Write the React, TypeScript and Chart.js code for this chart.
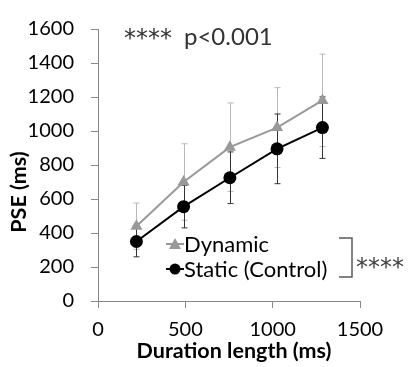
import React, { useEffect, useRef } from "react";
import { Chart, registerables } from "chart.js";

Chart.register(...registerables);

const durations = [220, 490, 755, 1025, 1285];
const dynamicPSE = [440, 700, 905, 1020, 1180];
const dynamicSD = [136, 225, 260, 235, 272];
const staticPSE = [350, 555, 725, 895, 1020];
const staticSD = [90, 125, 152, 205, 181];

const xTicks = [0, 500, 1000, 1500];
const yTicks = [0, 200, 400, 600, 800, 1000, 1200, 1400, 1600];

const seriesNames = ["Dynamic", "Static (Control)"];
const xTitle = "Duration length (ms)";
const yTitle = "PSE (ms)";
const sigStars = "****";
const sigP = "p<0.001";

const FONT = "Lato";
const STAR_FONT = "DejaVu Sans";
const sds = [dynamicSD, staticSD];
const barColors = ["#b8b8b8", "#333333"];

const errorBars = {
  id: "errorBars",
  beforeDatasetsDraw(chart: any) {
    const ctx = chart.ctx;
    const ys = chart.scales.y;
    ctx.save();
    chart.data.datasets.forEach((ds: any, i: number) => {
      const meta = chart.getDatasetMeta(i);
      ctx.strokeStyle = barColors[i];
      ctx.lineWidth = 1;
      meta.data.forEach((pt: any, j: number) => {
        const v = ds.data[j].y;
        const sd = sds[i][j];
        const x = Math.round(pt.x) + 0.5;
        const t = ys.getPixelForValue(v + sd);
        const b = ys.getPixelForValue(v - sd);
        ctx.beginPath();
        ctx.moveTo(x, t);
        ctx.lineTo(x, b);
        ctx.moveTo(x - 3, t);
        ctx.lineTo(x + 3, t);
        ctx.moveTo(x - 3, b);
        ctx.lineTo(x + 3, b);
        ctx.stroke();
      });
    });
    ctx.restore();
  },
};

const annotations = {
  id: "annotations",
  afterDraw(chart: any) {
    const ctx = chart.ctx;
    ctx.save();
    // top significance text
    ctx.fillStyle = "#333333";
    ctx.textAlign = "left";
    ctx.textBaseline = "alphabetic";
    ctx.font = `24px ${STAR_FONT}`;
    ctx.fillText(sigStars, 124, 45.5);
    ctx.font = `24px ${FONT}`;
    ctx.fillText(sigP, 184, 45);

    // axis titles
    ctx.fillStyle = "#000000";
    ctx.font = `bold 21.5px ${FONT}`;
    ctx.textAlign = "center";
    ctx.textBaseline = "middle";
    ctx.fillText(xTitle, 234, 351);
    ctx.save();
    ctx.translate(19, 192);
    ctx.rotate(-Math.PI / 2);
    ctx.fillText(yTitle, 0, 0);
    ctx.restore();

    // legend
    const rows = [244, 269];
    const colors = ["#999999", "#000000"];
    rows.forEach((y, i) => {
      ctx.strokeStyle = colors[i];
      ctx.lineWidth = 2;
      ctx.beginPath();
      ctx.moveTo(166, y);
      ctx.lineTo(184, y);
      ctx.stroke();
      ctx.fillStyle = colors[i];
      ctx.beginPath();
      if (i === 0) {
        ctx.moveTo(175, y - 6);
        ctx.lineTo(181, y + 5);
        ctx.lineTo(169, y + 5);
        ctx.closePath();
      } else {
        ctx.arc(175, y, 5.5, 0, Math.PI * 2);
      }
      ctx.fill();
      ctx.fillStyle = "#000000";
      ctx.font = `22px ${FONT}`;
      ctx.textAlign = "left";
      ctx.textBaseline = "middle";
      ctx.fillText(seriesNames[i], 184, y + 1);
    });

    // bracket
    ctx.strokeStyle = "#595959";
    ctx.lineWidth = 1.5;
    ctx.beginPath();
    ctx.moveTo(339, 238);
    ctx.lineTo(352, 238);
    ctx.lineTo(352, 277);
    ctx.lineTo(339, 277);
    ctx.stroke();
    ctx.fillStyle = "#404040";
    ctx.font = `24px ${STAR_FONT}`;
    ctx.textAlign = "left";
    ctx.textBaseline = "alphabetic";
    ctx.fillText(sigStars, 356, 274.5);
    ctx.restore();
  },
};

export default function App() {
  const ref = useRef<HTMLCanvasElement>(null);
  useEffect(() => {
    if (!ref.current) return;
    const chart = new Chart(ref.current, {
      type: "line",
      data: {
        datasets: [
          {
            label: seriesNames[0],
            data: durations.map((x, i) => ({ x, y: dynamicPSE[i] })),
            borderColor: "#999999",
            backgroundColor: "#999999",
            borderWidth: 2,
            pointStyle: "triangle",
            pointRadius: 7,
            pointBorderWidth: 0,
          },
          {
            label: seriesNames[1],
            data: durations.map((x, i) => ({ x, y: staticPSE[i] })),
            borderColor: "#000000",
            backgroundColor: "#000000",
            borderWidth: 2,
            pointStyle: "circle",
            pointRadius: 6.5,
            pointBorderWidth: 0,
          },
        ],
      },
      options: {
        animation: false,
        responsive: false,
        layout: { padding: { top: 18, right: 51, left: 0, bottom: 0 } },
        plugins: { legend: { display: false }, tooltip: { enabled: false } },
        scales: {
          x: {
            type: "linear",
            min: 0,
            max: 1500,
            afterBuildTicks: (s: any) => {
              s.ticks = xTicks.map((v) => ({ value: v }));
            },
            afterFit: (s: any) => {
              s.height = 66;
            },
            grid: { drawOnChartArea: false, tickLength: 7, color: "#888888" },
            border: { color: "#888888" },
            ticks: {
              color: "#000000",
              font: { family: FONT, size: 20 },
              padding: 10,
              maxRotation: 0,
              callback: (v: any) => String(v),
            },
          },
          y: {
            type: "linear",
            min: 0,
            max: 1600,
            afterBuildTicks: (s: any) => {
              s.ticks = yTicks.map((v) => ({ value: v }));
            },
            afterFit: (s: any) => {
              s.width = 98;
            },
            grid: { drawOnChartArea: false, tickLength: 7, color: "#888888" },
            border: { color: "#888888" },
            ticks: {
              color: "#000000",
              font: { family: FONT, size: 20 },
              padding: 17,
              callback: (v: any) => String(v),
            },
          },
        },
      },
      plugins: [errorBars, annotations],
    });
    return () => chart.destroy();
  }, []);
  return (
    <div style={{ position: "fixed", left: 0, top: 0, width: 411, height: 367, background: "#fff" }}>
      <canvas ref={ref} width={411} height={367} />
    </div>
  );
}
